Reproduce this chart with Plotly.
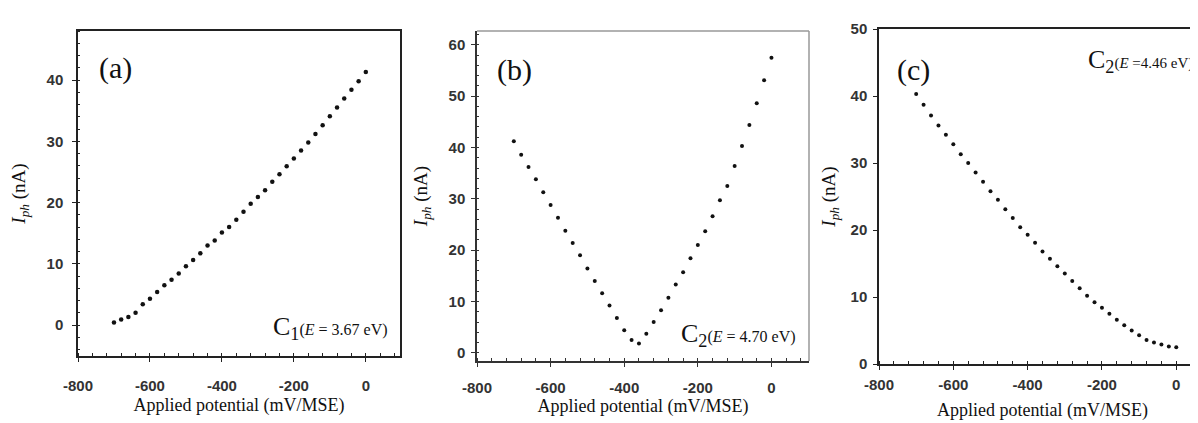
import plotly.graph_objects as go
from plotly.subplots import make_subplots

# applied potential (mV/MSE), same grid in all three panels
potential = [-700, -680, -660, -640, -620, -600, -580, -560, -540, -520,
             -500, -480, -460, -440, -420, -400, -380, -360, -340, -320,
             -300, -280, -260, -240, -220, -200, -180, -160, -140, -120,
             -100, -80, -60, -40, -20, 0]

# photocurrent (nA)
iph_a = [0.4, 0.9, 1.3, 2.0, 3.4, 4.3, 5.4, 6.5, 7.4, 8.4,
         9.6, 10.6, 11.7, 13.0, 13.8, 15.1, 16.0, 17.2, 18.5, 19.8,
         20.9, 22.0, 23.4, 24.6, 25.9, 27.2, 28.5, 29.8, 31.2, 32.6,
         34.1, 35.5, 37.0, 38.4, 39.8, 41.3]
iph_b = [41.2, 38.6, 36.2, 33.8, 31.3, 28.8, 26.3, 23.8, 21.4, 19.0,
         16.4, 14.0, 11.6, 9.2, 6.8, 4.4, 2.5, 1.8, 3.7, 6.0,
         8.3, 10.7, 13.3, 15.7, 18.4, 21.0, 23.7, 26.6, 29.7, 32.5,
         36.4, 40.3, 44.4, 48.6, 53.1, 57.5]
iph_c = [40.3, 38.7, 37.1, 35.6, 34.2, 32.8, 31.3, 30.0, 28.6, 27.2,
         25.8, 24.5, 23.1, 21.8, 20.4, 19.3, 18.1, 16.8, 15.7, 14.6,
         13.5, 12.4, 11.3, 10.2, 9.2, 8.4, 7.5, 6.6, 5.8, 5.0,
         4.3, 3.6, 3.2, 2.9, 2.6, 2.5]

x_ticks = [-800, -600, -400, -200, 0]
x_ticklabels = ["-800", "-600", "-400", "-200", "0"]
panel_tags = ["(a)", "(b)", "(c)"]
curve_tags = ["C<sub>1</sub>", "C<sub>2</sub>", "C<sub>2</sub>"]
energies = ["(<i>E</i> = 3.67 eV)", "(<i>E</i> = 4.70 eV)", "(<i>E</i> =4.46 eV)"]

W, H = 1198, 423
SERIF = "Liberation Serif"
SANS = "Liberation Sans"

fig = make_subplots(rows=1, cols=3)

series = [iph_a, iph_b, iph_c]
msize = [4.5, 4, 4]
for i, ys in enumerate(series):
    fig.add_trace(go.Scatter(x=potential, y=ys, mode="markers",
                             marker=dict(size=msize[i], color="#111"),
                             showlegend=False), row=1, col=i + 1)

# pixel boxes of the three plot areas: left, right, top, bottom
boxes = [(70, 392, 23, 348), (469, 801, 23, 353), (871, 1198, 21, 356)]
xranges = [[-800, 95], [-800, 102], [-800, 80]]
yranges = [[-5.06, 48], [-1.6, 62.7], [0, 50]]
xlab_off = [11, 8, 2]
xtitle_off = [6, 4, 12]
ylab_off = [6, 3, 3]
ytitle_off = [16, 16, 10]

ytitle = "<i>I</i><sub><i>ph</i></sub> (nA)"
tickfont = dict(family=SANS, size=15, color="#333", weight="bold")

for i in range(3):
    l, r, t, b = boxes[i]
    ax = "" if i == 0 else str(i + 1)
    line_col = "#222" if i != 1 else "#333"
    fig.update_layout({
        "xaxis" + ax: dict(
            domain=[l / W, r / W], range=xranges[i], automargin=False,
            tickvals=x_ticks, ticktext=x_ticklabels,
            ticks="outside", ticklen=4, tickwidth=1.2,
            tickcolor=line_col, showline=True, linecolor=line_col, linewidth=1.5,
            mirror=(i != 1), showgrid=False, zeroline=False,
            tickfont=tickfont, ticklabelstandoff=xlab_off[i],
            minor=dict(dtick=40, ticks="inside", ticklen=3, tickcolor=line_col),
            title=dict(text="Applied potential (mV/MSE)",
                       font=dict(family=SERIF, size=18, color="#111"),
                       standoff=xtitle_off[i]),
        ),
        "yaxis" + ax: dict(
            domain=[1 - b / H, 1 - t / H], range=yranges[i], automargin=False,
            dtick=10, ticks="outside", ticklen=4, tickwidth=1.2,
            tickcolor=line_col, showline=True, linecolor=line_col, linewidth=1.5,
            mirror=(i == 0), showgrid=False, zeroline=False,
            tickfont=tickfont, ticklabelstandoff=ylab_off[i],
            minor=dict(dtick=2, ticks="inside", ticklen=2, tickcolor=line_col)
            if i < 2 else dict(ticks=""),
            title=dict(text=ytitle, font=dict(family=SERIF, size=19, color="#111"),
                       standoff=ytitle_off[i]),
        ),
    })

# panel (b): lighter frame on top and right
fig.add_shape(type="line", xref="x2 domain", yref="y2 domain",
              x0=0, x1=1, y0=1, y1=1, line=dict(color="#999", width=1.5))
fig.add_shape(type="line", xref="x2 domain", yref="y2 domain",
              x0=1, x1=1, y0=0, y1=1, line=dict(color="#999", width=1.5))

tag_pos = [(0.115, 0.886), (0.114, 0.882), (0.104, 0.878)]
curve_pos = [(0.969, 0.086), (0.967, 0.079), (0.965, 0.904)]
paren_size = [16, 16, 15]
for i in range(3):
    ax = "" if i == 0 else str(i + 1)
    fig.add_annotation(xref="x" + ax + " domain", yref="y" + ax + " domain",
                       x=tag_pos[i][0], y=tag_pos[i][1], text=panel_tags[i],
                       showarrow=False, xanchor="center", yanchor="middle",
                       font=dict(family=SERIF, size=30, color="#111"))
    fig.add_annotation(xref="x" + ax + " domain", yref="y" + ax + " domain",
                       x=curve_pos[i][0], y=curve_pos[i][1],
                       text=curve_tags[i] + "<span style='font-size:%dpx'>" % paren_size[i]
                       + energies[i] + "</span>",
                       showarrow=False, xanchor="right", yanchor="middle",
                       font=dict(family=SERIF, size=26, color="#111"))

fig.update_layout(width=W, height=H, margin=dict(l=0, r=0, t=0, b=0),
                  paper_bgcolor="white", plot_bgcolor="white")

fig.write_html("out.html")
